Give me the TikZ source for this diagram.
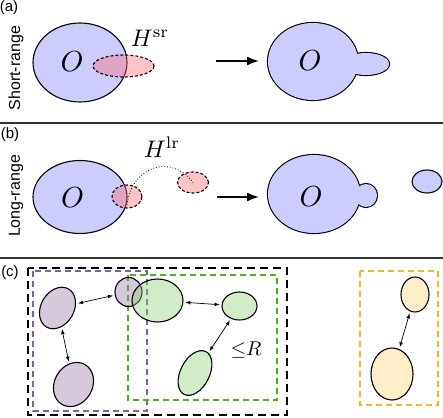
\documentclass[tikz,border=0pt]{standalone}
\usepackage{fontspec}
\newfontfamily\labfont{Liberation Sans}
\usetikzlibrary{shapes.geometric,arrows.meta}

\definecolor{oblue}{RGB}{204,204,255}
\definecolor{hpink}{RGB}{255,105,117}
\definecolor{cpurple}{RGB}{155,117,167}
\definecolor{cgreen}{RGB}{142,205,117}
\definecolor{corange}{RGB}{255,212,117}
\definecolor{dpurple}{RGB}{120,100,150}
\definecolor{dgreen}{RGB}{70,180,30}
\definecolor{dorange}{RGB}{245,185,30}

\tikzset{
  panel/.style={font=\labfont\fontsize{15}{15}\selectfont},
  side/.style={font=\labfont\fontsize{16}{16}\selectfont, rotate=90},
  ham/.style={draw, dash pattern=on 3pt off 2pt, line width=1.1pt, fill=hpink, fill opacity=0.4},
  blob/.style={draw, ellipse, line width=1.1pt, fill=#1, fill opacity=0.4, inner sep=0},
  group/.style={draw=#1, line width=1.4pt, dash pattern=on 6pt off 4pt},
  rule/.style={line width=2pt, black!80},
  bigarrow/.style={-{Latex[length=12pt,width=9pt]}, line width=1.8pt},
}

\begin{document}
\begin{tikzpicture}[x=1pt, y=-1pt]
\useasboundingbox (0,0) rectangle (443,417);

\def \osize {2.9}
\def \hsize {2.4}

% (a) short-range
\node[panel] (la) at (9,8) {(a)};
\node[side] (sa) at (16,68) {Short-range};
\draw[fill=oblue, line width=1.1pt] (80,62.5) ellipse (47 and 39.5);
\node[scale=\osize] (oa) at (72,62) {$O$};
\draw[ham] (123.5,66) ellipse (30.5 and 11);
\node[scale=\hsize] (ha) at (150,38) {$H^{\mathrm{sr}}$};
\coordinate (a-from) at (216,61);
\coordinate (a-to) at (259,61);
\draw[bigarrow] (a-from) -- (a-to);
\fill[oblue, draw=black, line width=2.2pt] (313,61.5) ellipse (45 and 38.5) (366,64) ellipse (23 and 11);
\fill[oblue] (313,61.5) ellipse (45 and 38.5) (366,64) ellipse (23 and 11);
\node[scale=\osize] (oa2) at (310,61) {$O$};

\draw[rule] (0,122.5) -- (443,122.5);

% (b) long-range
\node[panel] (lb) at (10,135) {(b)};
\node[side] (sb) at (16,196) {Long-range};
\draw[fill=oblue, line width=1.1pt] (80,197) ellipse (47 and 36.5);
\node[scale=\osize] (ob) at (72.5,197.5) {$O$};
\node[ham, ellipse, inner sep=0, minimum width=30pt, minimum height=23pt] (hb1) at (127,196.5) {};
\node[ham, ellipse, inner sep=0, minimum width=31pt, minimum height=21pt] (hb2) at (193,182.5) {};
\coordinate (hb-start) at (127,205);
\draw[dotted, line width=0.8pt] (hb-start) .. controls (132,165) and (172,154) .. (hb2.center);
\node[scale=\hsize] (hb) at (162,147) {$H^{\mathrm{lr}}$};
\coordinate (b-from) at (217,197);
\coordinate (b-to) at (259,197);
\draw[bigarrow] (b-from) -- (b-to);
\fill[oblue, draw=black, line width=2.2pt] (314,194) ellipse (46 and 39) (366,195.5) ellipse (11 and 11.5);
\fill[oblue] (314,194) ellipse (46 and 39) (366,195.5) ellipse (11 and 11.5);
\node[scale=\osize] (ob2) at (311,197) {$O$};
\draw[fill=oblue, line width=1.1pt] (427,181.5) ellipse (15 and 11.5);

\draw[rule] (0,258) -- (443,258);

% (c) clusters
\node[panel] (lc) at (10,273) {(c)};
\draw[line width=2.5pt, dash pattern=on 8pt off 5pt] (28,268) rectangle (287,415);
\draw[group=dpurple] (33,271) rectangle (147,411);
\draw[group=dgreen] (128,275) rectangle (277,400);
\draw[group=dorange] (360,271) rectangle (438,405);

\foreach \name/\x/\y/\w/\h/\r/\col in {
  pur1/57.5/308/44/33/60/cpurple, pur2/73.5/384.5/46/38/60/cpurple,
  pur3/128.5/292/27/29/0/cpurple, gr1/157.5/300.5/51/43/0/cgreen,
  gr2/239.5/306/35/28/0/cgreen, gr3/195/373/48/29/63/cgreen,
  or1/415/294.5/28/35/0/corange, or2/392/374/42/52/0/corange}
{
  \node[blob=\col, minimum width=\w pt, minimum height=\h pt, rotate=\r] (\name) at (\x,\y) {};
}

\foreach \a/\b in {pur1/pur3, pur1/pur2, gr1/gr2, gr3/gr2, or1/or2}
  \draw[<->, >=latex, line width=0.7pt, shorten <=2pt, shorten >=2pt] (\a) -- (\b);

\node[scale=2] (rl) at (246,350) {${\leq}R$};

\end{tikzpicture}
\end{document}
